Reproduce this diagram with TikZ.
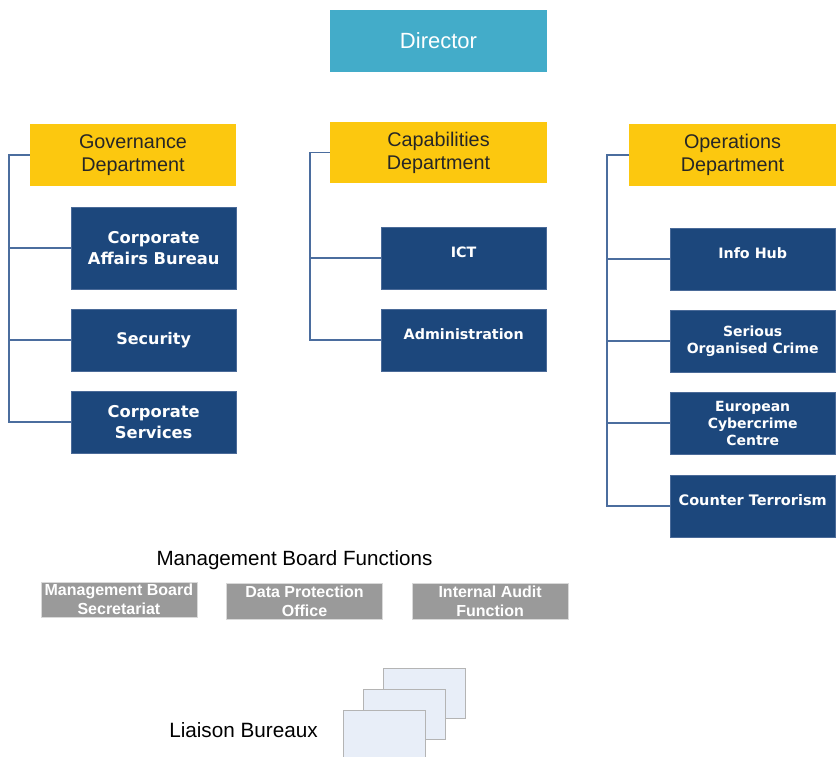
\documentclass[tikz,border=0pt]{standalone}
\usepackage{fontspec}
\setmainfont{Liberation Sans}
\newfontfamily\unitfont{DejaVu Sans}
\usepackage{xcolor}
\usetikzlibrary{positioning,calc}

\definecolor{headteal}{HTML}{43ACC9}
\definecolor{deptyellow}{HTML}{FCC80F}
\definecolor{unitblue}{HTML}{1C477C}
\definecolor{unitedge}{HTML}{4A6A98}
\definecolor{linkblue}{HTML}{4B6D9E}
\definecolor{boardgray}{HTML}{9A9A9A}
\definecolor{bureaufill}{HTML}{E8EEF8}
\definecolor{bureauedge}{HTML}{B4B4B4}

\begin{document}
\begin{tikzpicture}[
    x=1pt, y=-1pt,
    node distance=20pt,
    head/.style={rectangle, fill=headteal, minimum width=217, minimum height=62, text=white, font=\fontsize{22}{26}\selectfont},
    dept/.style={rectangle, fill=deptyellow, minimum width=206, minimum height=62, align=center, text=black!85, font=\fontsize{19.8}{23}\selectfont},
    unit/.style={rectangle, fill=unitblue, draw=unitedge, line width=0.6pt, outer sep=0pt, minimum width=165, minimum height=62, inner sep=2pt, align=center, text=white, font=\unitfont\bfseries\fontsize{16.3}{21}\selectfont},
    small/.style={font=\unitfont\bfseries\fontsize{14}{17}\selectfont},
    mid/.style={font=\unitfont\bfseries\fontsize{14.3}{18}\selectfont},
    hightext/.style={text depth=12pt},
    board/.style={rectangle, fill=boardgray, draw=black!15, line width=0.6pt, minimum width=156, minimum height=36, inner sep=1pt, align=center, text=white, font=\bfseries\fontsize{16}{19}\selectfont},
    bureau/.style={rectangle, fill=bureaufill, draw=bureauedge, line width=0.8pt, minimum width=82, minimum height=50},
    conn/.style={draw=linkblue, line width=1.8pt}
]
\useasboundingbox (0,0) rectangle (836,756);

% Director
\node[head] (dir) at (438.5,41) {Director};

% Departments
\node[dept] (gov) at (133,155) {Governance\\Department};
\node[dept, minimum width=217, minimum height=61] (cap) at (438.5,152.5) {Capabilities\\Department};
\node[dept, minimum width=207] (ops) at (732.5,155) {Operations\\Department};

% Governance units
\node[unit, minimum height=82, below=21pt of gov.south east, anchor=north east] (cab) {Corporate\\Affairs Bureau};
\node[unit, font=\unitfont\bfseries\fontsize{16}{21}\selectfont, below=of cab] (sec) {Security};
\node[unit, below=of sec] (cs) {Corporate\\Services};

% Capabilities units
\node[unit, mid, hightext, below=44pt of cap.south east, anchor=north east, xshift=-1pt] (ict) {ICT};
\node[unit, mid, hightext, below=of ict] (adm) {Administration};

% Operations units
\node[unit, mid, hightext, below=42pt of ops.south east, anchor=north east, xshift=-1pt] (hub) {Info Hub};
\node[unit, small, below=of hub] (soc) {Serious\\Organised Crime};
\node[unit, small, below=of soc] (ecc) {European\\Cybercrime\\Centre};
\node[unit, mid, hightext, font=\unitfont\bfseries\fontsize{14.5}{18}\selectfont, below=21pt of ecc] (ct) {Counter Terrorism};

% Connectors
\draw[conn] (gov.west) -- ++(-21,0) coordinate (gspine) |- (cs.west);
\draw[conn] (gspine) |- (cab.west);
\draw[conn] (gspine) |- (sec.west);
\draw[conn] (cap.west) -- ++(-20,0) coordinate (cspine) |- (adm.west);
\draw[conn] (cspine) |- (ict.west);
\draw[conn] (ops.west) -- ++(-22,0) coordinate (ospine) |- (ct.west);
\draw[conn] (ospine) |- (hub.west);
\draw[conn] (ospine) |- (soc.west);
\draw[conn] (ospine) |- (ecc.west);

% Management Board Functions
\node[font=\fontsize{20.6}{24}\selectfont] (mbf) at (294.5,560) {Management Board Functions};
\node[board] (dpo) at (304.5,601) {Data Protection\\Office};
\node[board, left=29pt of dpo, yshift=1.5pt, minimum height=35] (mbs) {Management Board\\Secretariat};
\node[board, right=29pt of dpo] (iaf) {Internal Audit\\Function};

% Liaison Bureaux
\node[bureau] (lb3) at (424.5,693.5) {};
\node[bureau] (lb2) at (404,714) {};
\node[bureau] (lb1) at (384,735) {};
\node[font=\fontsize{20.7}{24}\selectfont] (lbt) at (243.5,730) {Liaison Bureaux};

\end{tikzpicture}
\end{document}
